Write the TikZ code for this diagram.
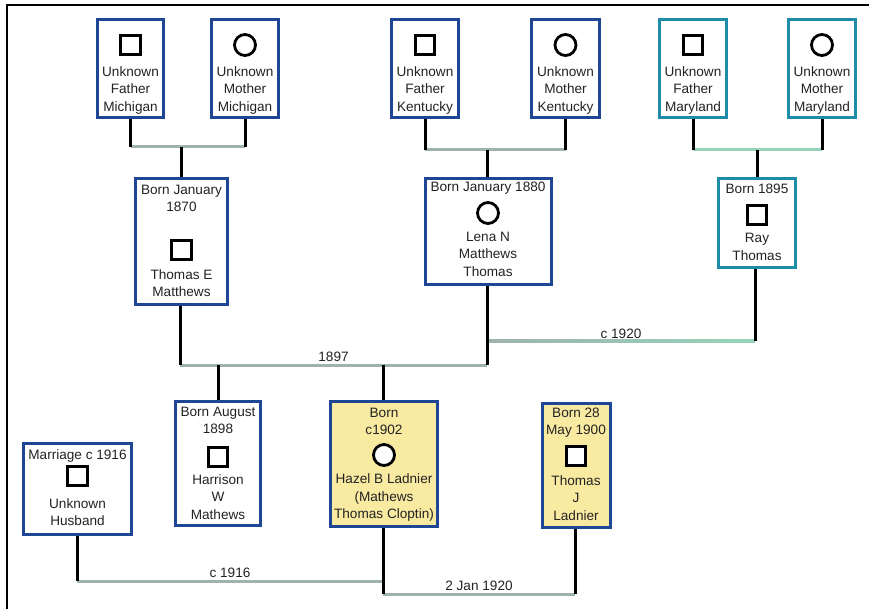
\documentclass[tikz,border=0pt]{standalone}
\usepackage{fontspec}
\setmainfont{Liberation Sans}
\definecolor{navy}{RGB}{30,70,148}
\definecolor{tealb}{RGB}{30,140,168}
\definecolor{hazel}{RGB}{249,234,162}
\definecolor{hline}{RGB}{158,178,174}
\definecolor{gline}{RGB}{150,212,186}
\definecolor{ink}{RGB}{35,35,35}
\begin{document}
\begin{tikzpicture}[x=1pt,y=-1pt,
  pbox/.style={draw=navy, line width=3pt, fill=white, inner sep=0pt},
  tbox/.style={pbox, draw=tealb},
  ybox/.style={pbox, fill=hazel},
  txt/.style={inner sep=0pt, align=center, text=ink, font=\fontsize{13.6}{17.5}\selectfont},
  lbl/.style={inner sep=2pt, text=ink, font=\fontsize{13.6}{17.5}\selectfont, above},
  sqs/.style={draw=black, line width=3pt, minimum size=19.5pt, inner sep=0pt, fill=white},
  crs/.style={draw=black, circle, line width=2.8pt, minimum size=21pt, inner sep=0pt, fill=white},
  vline/.style={draw=black, line width=3pt},
  hl/.style={draw=hline, line width=3pt},
  gl/.style={draw=gline, line width=3pt}]
\useasboundingbox (0,0) rectangle (869,609);
\fill[white] (0,0) rectangle (869,609);
\draw[line width=2.5pt] (7,609) -- (7,5) -- (869,5);

% top row
\node[pbox, minimum width=66pt, minimum height=98pt] (fm) at (130.5,68.5) {};
\node[pbox, minimum width=67pt, minimum height=98pt] (mm) at (245,68.5) {};
\node[pbox, minimum width=67pt, minimum height=98pt] (fk) at (425,68.5) {};
\node[pbox, minimum width=68pt, minimum height=98pt] (mk) at (565.5,68.5) {};
\node[tbox, minimum width=67pt, minimum height=98pt] (fd) at (693,68.5) {};
\node[tbox, minimum width=67pt, minimum height=98pt] (md) at (822,68.5) {};

\node[sqs] (fm-s) at (130.5,45) {};
\node[txt] (fm-t) at (130.5,90) {Unknown\\Father\\Michigan};
\node[crs] (mm-s) at (245,45) {};
\node[txt] (mm-t) at (245,90) {Unknown\\Mother\\Michigan};
\node[sqs] (fk-s) at (425,45) {};
\node[txt] (fk-t) at (425,90) {Unknown\\Father\\Kentucky};
\node[crs] (mk-s) at (565.5,45) {};
\node[txt] (mk-t) at (565.5,90) {Unknown\\Mother\\Kentucky};
\node[sqs] (fd-s) at (693,45) {};
\node[txt] (fd-t) at (693,90) {Unknown\\Father\\Maryland};
\node[crs] (md-s) at (822,45) {};
\node[txt] (md-t) at (822,90) {Unknown\\Mother\\Maryland};

% second row
\node[pbox, minimum width=92pt, minimum height=126pt] (te) at (181.5,241.5) {};
\node[pbox, minimum width=126pt, minimum height=106pt] (ln) at (488,231.5) {};
\node[tbox, minimum width=77pt, minimum height=89pt] (rt) at (757,223) {};

\node[txt] (te-b) at (181.5,198.5) {Born January\\1870};
\node[sqs] (te-s) at (181.5,250) {};
\node[txt] (te-t) at (181.5,283) {Thomas E\\Matthews};
\node[txt] (ln-b) at (488,188.5) {Born January 1880};
\node[crs] (ln-s) at (488,213) {};
\node[txt] (ln-t) at (488,254) {Lena N\\Matthews\\Thomas};
\node[txt] (rt-b) at (757,188.5) {Born 1895};
\node[sqs] (rt-s) at (757,215) {};
\node[txt] (rt-t) at (757,247) {Ray\\Thomas};

% third row
\node[pbox, minimum width=85pt, minimum height=124pt] (hw) at (218,463.5) {};
\node[ybox, minimum width=107pt, minimum height=125pt] (hz) at (384,464) {};
\node[ybox, minimum width=68pt, minimum height=124pt] (tj) at (576,465.5) {};
\node[pbox, minimum width=108pt, minimum height=91pt] (uh) at (77.5,489) {};

\node[txt] (hw-b) at (218,420.5) {Born August\\1898};
\node[sqs] (hw-s) at (218,457) {};
\node[txt] (hw-t) at (218,497) {Harrison\\W\\Mathews};
\node[txt] (hz-b) at (384,421.5) {Born\\c1902};
\node[crs] (hz-s) at (384,455) {};
\node[txt] (hz-t) at (384,497.5) {Hazel B Ladnier\\(Mathews\\Thomas Cloptin)};
\node[txt] (tj-b) at (576,422.5) {Born 28\\May 1900};
\node[sqs] (tj-s) at (576,456) {};
\node[txt] (tj-t) at (576,498) {Thomas\\J\\Ladnier};
\node[txt] (uh-b) at (77.5,455.5) {Marriage c 1916};
\node[sqs] (uh-s) at (77.5,476) {};
\node[txt] (uh-t) at (77.5,512) {Unknown\\Husband};

% junction coordinates
\coordinate (jm1) at (130.5,147);
\coordinate (jm2) at (245,147);
\coordinate (jmc) at (181,147);
\coordinate (jk1) at (425,150);
\coordinate (jk2) at (565.5,150);
\coordinate (jkc) at (487,150);
\coordinate (jd1) at (693,150);
\coordinate (jd2) at (822,150);
\coordinate (jdc) at (757,150);
\coordinate (j97a) at (180,365);
\coordinate (j97b) at (487,365);
\coordinate (j97c) at (218,365);
\coordinate (j97d) at (383,365);
\coordinate (j20a) at (487,341);
\coordinate (j20b) at (755,341);
\coordinate (j16a) at (77,581);
\coordinate (j16b) at (383,581);
\coordinate (j20c) at (383,594);
\coordinate (j20d) at (575,594);

% couple lines
\draw[hl] (jm1) -- (jm2);
\draw[hl] (jk1) -- (jk2);
\draw[gl] (jd1) -- (jd2);
\draw[hl] (j97a) -- node[lbl] {1897} (j97b);
\shade[left color=hline, right color=gline] (487,339.5) rectangle (755,342.5);
\path (j20a) -- node[lbl] {c 1920} (j20b);
\draw[hl] (j16a) -- node[lbl] {c 1916} (j16b);
\draw[hl] (j20c) -- node[lbl] {2 Jan 1920} (j20d);

% parent verticals
\draw[vline] (fm.south) -- (jm1);
\draw[vline] (mm.south) -- (jm2);
\draw[vline] (fk.south) -- (jk1);
\draw[vline] (mk.south) -- (jk2);
\draw[vline] (fd.south) -- (jd1);
\draw[vline] (md.south) -- (jd2);
\draw[vline] (te.south -| j97a) -- (j97a);
\draw[vline] (ln.south -| j97b) -- (j97b);
\draw[vline] (rt.south -| j20b) -- (j20b);
\draw[vline] (uh.south -| j16a) -- (j16a);
\draw[vline] (hz.south -| j20c) -- (j20c);
\draw[vline] (tj.south -| j20d) -- (j20d);

% child verticals
\draw[vline] (jmc) -- (te.north -| jmc);
\draw[vline] (jkc) -- (ln.north -| jkc);
\draw[vline] (jdc) -- (rt.north -| jdc);
\draw[vline] (j97c) -- (hw.north -| j97c);
\draw[vline] (j97d) -- (hz.north -| j97d);
\end{tikzpicture}
\end{document}
